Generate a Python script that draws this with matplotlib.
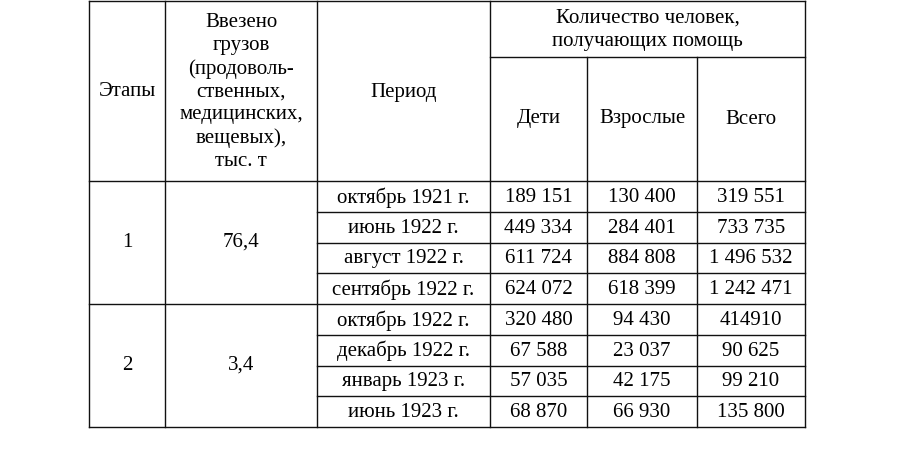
import matplotlib
matplotlib.use("Agg")
import matplotlib.pyplot as plt

stages = ["1", "2"]
cargo = ["76,4", "3,4"]
periods = ["октябрь 1921 г.", "июнь 1922 г.", "август 1922 г.", "сентябрь 1922 г.",
           "октябрь 1922 г.", "декабрь 1922 г.", "январь 1923 г.", "июнь 1923 г."]
children = ["189 151", "449 334", "611 724", "624 072", "320 480", "67 588", "57 035", "68 870"]
adults = ["130 400", "284 401", "884 808", "618 399", "94 430", "23 037", "42 175", "66 930"]
total = ["319 551", "733 735", "1 496 532", "1 242 471", "414910", "90 625", "99 210", "135 800"]
headers = ["Этапы", "Ввезено\nгрузов\n(продоволь-\nственных,\nмедицинских,\nвещевых),\nтыс. т", "Период"]
group_header = "Количество человек,\nполучающих помощь"
sub_headers = ["Дети", "Взрослые", "Всего"]

fig = plt.figure(figsize=(9, 4.53), dpi=100)
ax = fig.add_axes([0, 0, 1, 1])
ax.set_xlim(0, 900); ax.set_ylim(453, 0); ax.axis("off")

xs = [89, 165, 317, 490, 587, 697, 805]
top, sub, hb = 1, 57, 181
rh = (427 - hb) / 8
rows = [hb + i * rh for i in range(9)]
lc = "#111111"; lw = 1.0
fp = dict(family="Liberation Serif", fontsize=15, ha="center", va="center", linespacing=1.28)

def h(y, x0, x1): ax.plot([x0, x1], [y, y], color=lc, lw=lw)
def v(x, y0, y1): ax.plot([x, x], [y0, y1], color=lc, lw=lw)

h(top, xs[0], xs[-1]); h(hb, xs[0], xs[-1]); h(rows[-1], xs[0], xs[-1])
h(sub, xs[3], xs[-1]); h(rows[4], xs[0], xs[-1])
for i in range(1, 8):
    if i != 4:
        h(rows[i], xs[2], xs[-1])
for i, x in enumerate(xs):
    v(x, sub if i in (4, 5) else top, rows[-1])

for i, t in enumerate(headers):
    ax.text((xs[i] + xs[i+1]) / 2, (top + hb) / 2 + 1, t, **fp)
ax.text((xs[3] + xs[6]) / 2, (top + sub) / 2 + 1, group_header, **fp)
for i, t in enumerate(sub_headers):
    ax.text((xs[3+i] + xs[4+i]) / 2, (sub + hb) / 2, t, **fp)
for g in range(2):
    yc = (rows[4*g] + rows[4*g+4]) / 2
    ax.text((xs[0] + xs[1]) / 2, yc, stages[g], **fp)
    ax.text((xs[1] + xs[2]) / 2, yc, cargo[g], **fp)
for r in range(8):
    yc = (rows[r] + rows[r+1]) / 2 + 1
    for c, col in enumerate([periods, children, adults, total]):
        ax.text((xs[2+c] + xs[3+c]) / 2, yc, col[r], **fp)

fig.savefig("out.png", dpi=100, facecolor="white")
